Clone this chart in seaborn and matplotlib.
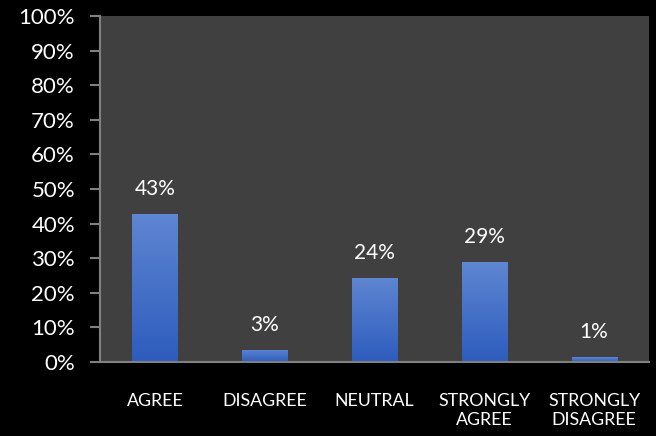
import numpy as np
import pandas as pd
import matplotlib.pyplot as plt
import seaborn as sns

# survey answers
categories = ['AGREE', 'DISAGREE', 'NEUTRAL', 'STRONGLY\nAGREE', 'STRONGLY\nDISAGREE']
shares = [0.428, 0.035, 0.243, 0.289, 0.014]
labels = ['43%', '3%', '24%', '29%', '1%']
yticks = [0.0, 0.1, 0.2, 0.3, 0.4, 0.5, 0.6, 0.7, 0.8, 0.9, 1.0]

df = pd.DataFrame({'answer': categories, 'share': shares})

sns.set_style('dark')
plt.rcParams['font.family'] = ['Lato', 'DejaVu Sans']

fig = plt.figure(figsize=(6.56, 4.36), dpi=100, facecolor='black')
ax = fig.add_axes([100 / 656, 74 / 436, 549 / 656, 346 / 436])
ax.set_facecolor('#404040')

sns.barplot(data=df, x='answer', y='share', color='#3a67c4', width=0.41,
            linewidth=0, ax=ax)

# vertical gradient on each bar, lighter at the top
grad = np.linspace(1, 0, 256).reshape(-1, 1)
cmap = sns.blend_palette(['#2d5cbd', '#5f86d2'], as_cmap=True)
for bar in ax.patches:
    x0, y0 = bar.get_x(), bar.get_y()
    w, h = bar.get_width(), bar.get_height()
    im = ax.imshow(grad, extent=[x0, x0 + w, y0, y0 + h], cmap=cmap,
                   aspect='auto', zorder=bar.get_zorder() + 0.1)
    im.set_clip_path(bar)

for bar, lab in zip(ax.patches, labels):
    ax.annotate(lab, (bar.get_x() + bar.get_width() / 2, bar.get_height()),
                xytext=(0, 11), textcoords='offset points',
                ha='center', va='bottom', color='white', fontsize=15)

ax.set_xlim(-0.5, len(categories) - 0.5)
ax.set_ylim(0, 1)
ax.set_yticks(yticks)
ax.set_yticklabels([f'{int(round(t * 100))}%' for t in yticks])
ax.set_xlabel('')
ax.set_ylabel('')
ax.grid(False)

for side in ['top', 'right']:
    ax.spines[side].set_visible(False)
for side in ['left', 'bottom']:
    ax.spines[side].set_visible(True)
    ax.spines[side].set_color('#808080')
    ax.spines[side].set_linewidth(1.5)

ax.tick_params(axis='y', left=True, length=7, width=1.5, color='#808080',
               labelcolor='white', labelsize=16, pad=11)
ax.tick_params(axis='x', bottom=False, labelcolor='white', labelsize=12.8, pad=19)

fig.savefig('out.png', dpi=100, facecolor='black')
